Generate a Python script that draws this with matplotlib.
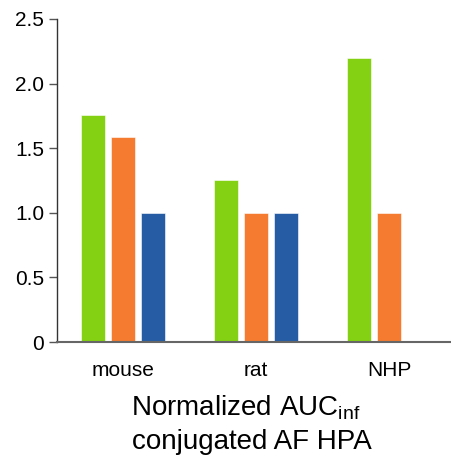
import numpy as np
import matplotlib
matplotlib.use("Agg")
import matplotlib.pyplot as plt

plt.rcParams['font.family'] = ['Liberation Sans', 'DejaVu Sans']
plt.rcParams['mathtext.fontset'] = 'custom'
plt.rcParams['mathtext.rm'] = 'Liberation Sans'
plt.rcParams['mathtext.it'] = 'Liberation Sans'

categories = ['mouse', 'rat', 'NHP']
green_vals = [1.76, 1.25, 2.20]
orange_vals = [1.59, 1.00, 1.00]
blue_vals = [1.00, 1.00, np.nan]
yticks = [0, 0.5, 1.0, 1.5, 2.0, 2.5]
yticklabels = ['0', '0.5', '1.0', '1.5', '2.0', '2.5']
title_line1 = 'Normalized AUC$_{\\mathrm{inf}}$'
title_line2 = 'conjugated AF HPA'

colors = ['#84D113', '#F47B30', '#255CA3']

W, H = 452, 455
fig = plt.figure(figsize=(W/100, H/100), dpi=100)
ax = fig.add_axes([57/W, (H-342)/H, (455.5-57)/W, (342-19)/H])

x = np.arange(len(categories))
w = 0.18
off = 0.2256
for vals, o, c in zip([green_vals, orange_vals, blue_vals], [-off, 0, off], colors):
    ax.bar(x + o, vals, width=w, color=c, edgecolor='#ffffff', linewidth=0.4)

ax.set_xlim(-0.5, 2.5)
ax.set_ylim(0, 2.5)
ax.set_yticks(yticks)
ax.set_yticklabels(yticklabels, fontsize=15)
ax.set_xticks(x)
ax.set_xticklabels(categories, fontsize=15)
ax.tick_params(axis='x', length=0, pad=13.5)
ax.tick_params(axis='y', length=5.8, width=1, color='#555555', pad=3.3)
for s in ['top', 'right']:
    ax.spines[s].set_visible(False)
ax.spines['left'].set_color('#333333')
ax.spines['left'].set_linewidth(1)
ax.spines['bottom'].set_color('#666666')
ax.spines['bottom'].set_linewidth(1.5)

fig.text(246 / W, (H-416)/H, title_line1, fontsize=20, ha='center', va='baseline')
fig.text(251.5 / W, (H-449)/H, title_line2, fontsize=20, ha='center', va='baseline')

fig.savefig('out.png', dpi=100)
